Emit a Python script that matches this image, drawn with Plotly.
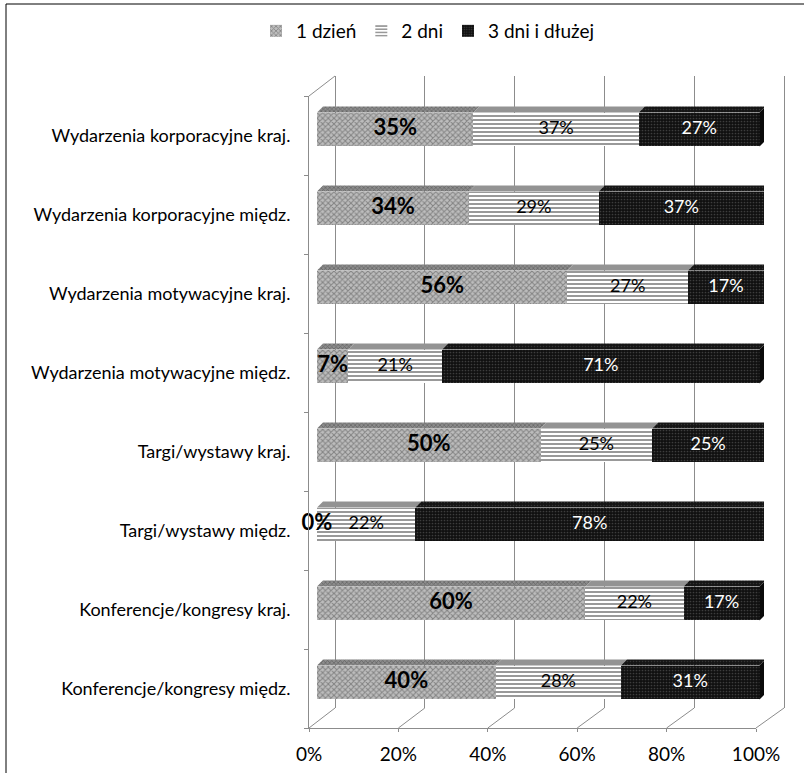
import plotly.graph_objects as go

# ---- data -------------------------------------------------------------
categories = [
    "Wydarzenia korporacyjne kraj.",
    "Wydarzenia korporacyjne międz.",
    "Wydarzenia motywacyjne kraj.",
    "Wydarzenia motywacyjne międz.",
    "Targi/wystawy kraj.",
    "Targi/wystawy międz.",
    "Konferencje/kongresy kraj.",
    "Konferencje/kongresy międz.",
]
series_names = ["1 dzień", "2 dni", "3 dni i dłużej"]
one_day = [35, 34, 56, 7, 50, 0, 60, 40]
two_days = [37, 29, 27, 21, 25, 22, 22, 28]
three_plus = [27, 37, 17, 71, 25, 78, 17, 31]
x_ticks = [0, 20, 40, 60, 80, 100]
x_ticktext = ["0%", "20%", "40%", "60%", "80%", "100%"]

# ---- geometry (pixels) -----------------------------------------------
W, H = 804, 773
FONT = "Lato, 'Open Sans', sans-serif"
GRID = "#8c8c8c"

FRONT_X = (309, 756)     # front plane, 0 % .. 100 %
BACK_X = (335, 784)      # back wall, 0 % .. 100 %
BAR_X = (317, 764)       # bar front faces
FRONT_Y = (96, 728)      # top / bottom of the front plane
BACK_Y = (76, 708)       # top / bottom of the back wall
BAR_Y = (90, 722)
BAR_W = 0.43             # bar thickness in category units
DEPTH_PX = 6             # depth of each bar
PAD = 1.0                # extra range (in %) so edge gridlines are drawn


def fx(px):
    return px / W


def fy(py):
    return 1 - py / H


n = len(categories)
rows = list(range(n))
series = [one_day, two_days, three_plus]

fig = go.Figure()

# invisible point so the back-wall subplot is created
fig.add_trace(go.Scatter(x=[50], y=[0.5], mode="markers", marker=dict(opacity=0),
                         showlegend=False, hoverinfo="skip", xaxis="x", yaxis="y"))

patterns = [
    dict(shape="x", fgcolor="#4a4a4a", bgcolor="#bdbdbd", size=4, solidity=0.45),
    dict(shape="-", fgcolor="#000000", bgcolor="#ffffff", size=4, solidity=0.4),
    dict(shape=".", fgcolor="#6a6a6a", bgcolor="#101010", size=3, solidity=0.25),
]
# top faces are a darker version of the front pattern
top_patterns = [
    dict(shape="x", fgcolor="#3a3a3a", bgcolor="#8c8c8c", size=3, solidity=0.4),
    dict(shape="-", fgcolor="#3a3a3a", bgcolor="#b0b0b0", size=2, solidity=0.5),
    dict(shape=".", fgcolor="#555555", bgcolor="#151515", size=3, solidity=0.2),
]

starts = []
acc = [0] * n
for vals in series:
    starts.append(list(acc))
    acc = [a + v for a, v in zip(acc, vals)]
ends = acc

for k, (name, vals) in enumerate(zip(series_names, series)):
    fig.add_trace(go.Bar(
        name=name, x=vals, y=rows, base=starts[k], orientation="h", width=BAR_W,
        marker=dict(color=patterns[k]["bgcolor"], pattern=patterns[k],
                    line=dict(width=0)),
        xaxis="x2", yaxis="y2", hoverinfo="skip",
    ))

# depth offsets in data units
dx = DEPTH_PX / ((BAR_X[1] - BAR_X[0]) / 100)
dy = DEPTH_PX / ((BAR_Y[1] - BAR_Y[0]) / n)
h = BAR_W / 2

# top faces of each segment
for k, vals in enumerate(series):
    xs, ys = [], []
    for i in rows:
        a = starts[k][i]
        b = a + vals[i]
        if vals[i] == 0:
            continue
        xs += [a, b, b + dx, a + dx, a, None]
        ys += [i - h, i - h, i - h - dy, i - h - dy, i - h, None]
    fig.add_trace(go.Scatter(
        x=xs, y=ys, mode="lines", fill="toself",
        fillcolor=top_patterns[k]["bgcolor"], fillpattern=top_patterns[k],
        line=dict(width=0), showlegend=False, hoverinfo="skip",
        xaxis="x2", yaxis="y2", cliponaxis=False,
    ))

# right-hand side faces
xs, ys = [], []
for i in rows:
    e = ends[i]
    xs += [e, e + dx, e + dx, e, e, None]
    ys += [i - h, i - h - dy, i + h - dy, i + h, i - h, None]
fig.add_trace(go.Scatter(
    x=xs, y=ys, mode="lines", fill="toself", fillcolor="#0a0a0a",
    line=dict(width=0), showlegend=False, hoverinfo="skip",
    xaxis="x2", yaxis="y2", cliponaxis=False,
))

# value labels
label_styles = [
    dict(color="#000000", size=22, weight="bold"),
    dict(color="#000000", size=18, weight="normal"),
    dict(color="#ffffff", size=18, weight="normal"),
]
for k, vals in enumerate(series):
    centers = [s + v / 2 for s, v in zip(starts[k], vals)]
    fig.add_trace(go.Scatter(
        x=centers, y=rows, mode="text", text=[f"{v}%" for v in vals],
        textposition="middle center",
        textfont=dict(family=FONT, **label_styles[k]),
        showlegend=False, hoverinfo="skip", xaxis="x2", yaxis="y2",
        cliponaxis=False,
    ))

# invisible point for the front-plane axes
fig.add_trace(go.Scatter(x=[50], y=[0], mode="markers", marker=dict(opacity=0),
                         showlegend=False, hoverinfo="skip", xaxis="x3", yaxis="y3"))

# ---- walls and floor --------------------------------------------------
shapes = []


def front_px(v):
    return FRONT_X[0] + (FRONT_X[1] - FRONT_X[0]) * v / 100


def back_px(v):
    return BACK_X[0] + (BACK_X[1] - BACK_X[0]) * v / 100


for v in x_ticks:
    shapes.append(dict(type="line", xref="paper", yref="paper",
                       x0=fx(front_px(v)), y0=fy(FRONT_Y[1]),
                       x1=fx(back_px(v)), y1=fy(BACK_Y[1]),
                       line=dict(color=GRID, width=1)))
shapes.append(dict(type="line", xref="paper", yref="paper",
                   x0=fx(FRONT_X[0]), y0=fy(FRONT_Y[0]),
                   x1=fx(BACK_X[0]), y1=fy(BACK_Y[0]),
                   line=dict(color=GRID, width=1)))
# outer chart frame (open to the right and bottom)
shapes.append(dict(type="rect", xref="paper", yref="paper",
                   x0=fx(6), y0=fy(4), x1=fx(W + 60), y1=fy(H + 60),
                   line=dict(color="#000000", width=1)))

back_unit = (BACK_X[1] - BACK_X[0]) / 100

fig.update_layout(
    width=W, height=H,
    margin=dict(l=0, r=0, t=0, b=0, autoexpand=False),
    paper_bgcolor="#ffffff", plot_bgcolor="rgba(0,0,0,0)",
    font=dict(family=FONT, size=18, color="#000000"),
    barmode="stack", bargap=0,
    showlegend=True,
    legend=dict(orientation="h", x=fx(428), xanchor="center",
                y=fy(31), yanchor="middle", font=dict(size=19),
                traceorder="normal", itemwidth=30, tracegroupgap=0,
                bgcolor="rgba(0,0,0,0)"),
    shapes=shapes,
    # back wall with gridlines
    xaxis=dict(domain=[fx(BACK_X[0] - PAD * back_unit),
                       fx(BACK_X[1] + PAD * back_unit)],
               range=[-PAD, 100 + PAD],
               tickvals=x_ticks, showticklabels=False, showgrid=True,
               gridcolor=GRID, gridwidth=1, zeroline=False, showline=False,
               ticks="", anchor="y", fixedrange=True, automargin=False),
    yaxis=dict(domain=[fy(BACK_Y[1]), fy(BACK_Y[0])], range=[0, 1],
               showgrid=False, showticklabels=False, zeroline=False,
               showline=False, ticks="", anchor="x", fixedrange=True,
               automargin=False),
    # bars
    xaxis2=dict(domain=[fx(BAR_X[0]), fx(BAR_X[1])], range=[0, 100],
                visible=False, anchor="y2", fixedrange=True, automargin=False),
    yaxis2=dict(domain=[fy(BAR_Y[1]), fy(BAR_Y[0])], range=[n - 0.5, -0.5],
                visible=False, anchor="x2", fixedrange=True, automargin=False),
    # front plane: percentage labels and category labels
    xaxis3=dict(domain=[fx(FRONT_X[0]), fx(FRONT_X[1])], range=[0, 100],
                tickvals=x_ticks, ticktext=x_ticktext, showgrid=False,
                zeroline=False, showline=True, linecolor=GRID, linewidth=1,
                ticks="outside", ticklen=3, tickcolor=GRID,
                ticklabelstandoff=6, tickfont=dict(size=19),
                anchor="y3", fixedrange=True, automargin=False),
    yaxis3=dict(domain=[fy(FRONT_Y[1]), fy(FRONT_Y[0])], range=[n - 0.5, -0.5],
                tickvals=rows, ticktext=categories, ticks="", showgrid=False,
                zeroline=False, showline=True, linecolor=GRID, linewidth=1,
                minor=dict(tickvals=[r - 0.5 for r in range(n + 1)],
                           ticks="outside", ticklen=4, tickcolor=GRID,
                           showgrid=False),
                ticklabelstandoff=14, tickfont=dict(size=18),
                anchor="x3", fixedrange=True, automargin=False),
)

fig.write_html("out.html")
